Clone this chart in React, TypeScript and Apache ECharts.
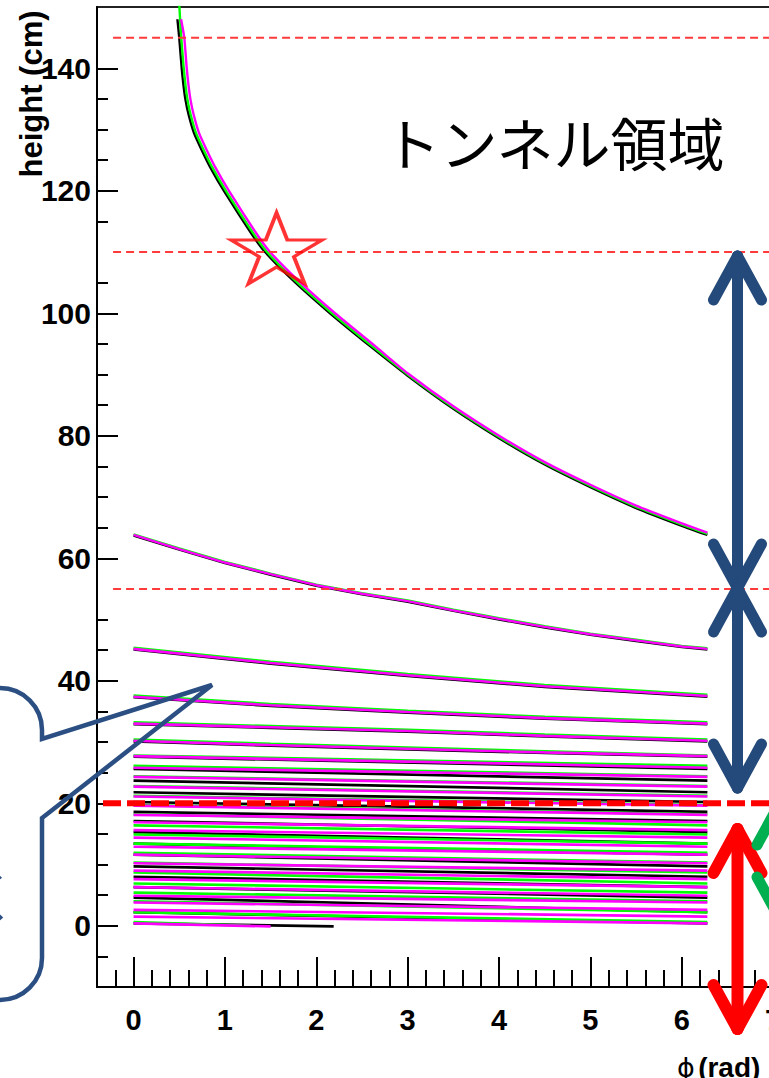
import React, { useEffect, useRef } from "react";
import * as echarts from "echarts";

// ---- axis ticks ----
const xTickLabels = [0, 1, 2, 3, 4, 5, 6, 7];
const xMinorTicks = [-0.2, 0.2, 0.4, 0.6, 0.8, 1.2, 1.4, 1.6, 1.8, 2.2, 2.4, 2.6, 2.8, 3.2, 3.4, 3.6, 3.8, 4.2, 4.4, 4.6, 4.8, 5.2, 5.4, 5.6, 5.8, 6.2, 6.4, 6.6, 6.8, 7.2, 7.4];
const yTickLabels = [0, 20, 40, 60, 80, 100, 120, 140];
const yMinorTicks = [-5, 5, 10, 15, 25, 30, 35, 45, 50, 65, 70, 75, 85, 90, 95, 105, 115, 125, 130, 135];

// ---- first (top) wrap of the track: [phi, height] ----
const topGreen = [[0.498, 151], [0.522, 145.0], [0.548, 140.2], [0.568, 137.3], [0.591, 134.8], [0.625, 132.4], [0.684, 129.4], [0.766, 126.7], [0.859, 123.9], [1.018, 119.8], [1.308, 113.1], [1.461, 110.0], [1.8, 104.9], [2.172, 100.0], [2.621, 94.5], [3.0, 90.0], [3.5, 84.6], [4.0, 79.8], [4.5, 75.5], [5.0, 71.8], [5.5, 68.4], [6.0, 65.5], [6.28, 64.0]];
const topBlack = [[0.48, 148], [0.5, 145.0], [0.526, 140.2], [0.546, 137.3], [0.569, 134.8], [0.603, 132.4], [0.662, 129.4], [0.744, 126.7], [0.837, 123.9], [0.996, 119.8], [1.286, 113.1], [1.439, 110.0], [1.778, 104.9], [2.15, 100.0], [2.6, 94.5], [3.0, 89.8], [3.5, 84.4], [4.0, 79.6], [4.5, 75.3], [5.0, 71.6], [5.5, 68.2], [6.0, 65.3], [6.28, 63.8]];
const topMagenta = [[0.52, 148], [0.555, 145.0], [0.581, 140.2], [0.601, 137.3], [0.624, 134.8], [0.658, 132.4], [0.717, 129.4], [0.799, 126.7], [0.892, 123.9], [1.051, 119.8], [1.341, 113.1], [1.494, 110.0], [1.833, 104.9], [2.205, 100.0], [2.654, 94.5], [3.0, 90.2], [3.5, 84.8], [4.0, 80.0], [4.5, 75.7], [5.0, 72.0], [5.5, 68.6], [6.0, 65.7], [6.28, 64.2]];

// ---- second wrap ----
const phiFine = [0, 0.5, 1, 1.5, 2, 2.5, 3, 3.5, 4, 4.5, 5, 5.5, 6, 6.28];
const wrap2Black = [63.7, 61.4, 59.2, 57.3, 55.5, 54.1, 52.9, 51.4, 50.0, 48.7, 47.5, 46.5, 45.5, 45.1];
const wrap2Green = [63.9, 61.6, 59.4, 57.5, 55.7, 54.3, 53.1, 51.6, 50.2, 48.9, 47.7, 46.7, 45.7, 45.3];
const wrap2Magenta = [63.8, 61.5, 59.3, 57.4, 55.6, 54.2, 53.0, 51.5, 50.1, 48.8, 47.6, 46.6, 45.6, 45.2];

// ---- wraps 3..6 ----
const phiCoarse = [0, 1.5, 3, 4.5, 6.28];
const wrapsBlack = [
  [45.1, 42.8, 40.8, 39.0, 37.4],
  [37.3, 35.9, 34.8, 33.8, 32.9],
  [32.9, 32.3, 31.7, 30.9, 30.1],
  [30.1, 29.4, 28.8, 28.2, 27.6],
];
const wrapsGreen = [
  [45.4, 43.1, 41.1, 39.3, 37.7],
  [37.6, 36.2, 35.1, 34.1, 33.2],
  [33.2, 32.6, 32.0, 31.2, 30.4],
  [30.4, 29.7, 29.1, 28.5, 27.8],
];
const wrapsMagenta = [
  [45.2, 42.9, 40.9, 39.1, 37.5],
  [37.4, 36.0, 34.9, 33.9, 33.0],
  [33.0, 32.4, 31.8, 31.0, 30.2],
  [30.2, 29.5, 28.9, 28.3, 27.7],
];

// ---- dense region: height at each wrap boundary (phi = 0 / 2pi) ----
const WRAP_END = 6.28;
const denseBlack = [27.6, 25.6, 23.7, 21.8, 20.2, 18.6, 17.1, 15.3, 13.4, 11.6, 9.7, 8.0, 6.3, 4.6, 2.2, 0.4];
const denseBlackEnd = [2.19, -0.1];
const denseGreen = [27.8, 26.1, 24.4, 22.8, 21.2, 19.7, 18.2, 16.4, 14.9, 13.4, 11.9, 10.3, 8.7, 6.9, 5.4, 4.0, 2.2, 0.6];
const denseGreenEnd = [1.28, 0.0];
const denseMagenta = [27.7, 25.8, 24.3, 22.7, 21.1, 19.6, 18.1, 16.9, 15.6, 14.4, 12.9, 11.6, 10.2, 9.0, 7.6, 6.3, 4.9, 3.8, 2.6, 1.5, 0.4];
const denseMagentaEnd = [1.5, -0.1];

// ---- reference heights (dashed lines) and star marker ----
const thinLevels = [145, 110, 55];
const thickLevel = 20;
const thinStart = -0.224;
const thickStart = -0.334;
const lineEnd = 7.6;
const starPoint = [1.565, 110.6];

const BLACK = "#000000";
const GREEN = "#00ff00";
const MAGENTA = "#ff00ff";
const BLUE = "#244a7b";
const BUBBLE = "#2b4f82";

function lineSeries(data: number[][], color: string, width = 2.4, smooth = false) {
  return {
    type: "line",
    data,
    symbol: "none",
    silent: true,
    smooth: smooth ? 0.2 : false,
    lineStyle: { color, width },
    z: 2,
  };
}

function trackSeries(
  top: number[][],
  w2: number[],
  wraps: number[][],
  dense: number[],
  end: number[],
  color: string
) {
  const out: any[] = [];
  out.push(lineSeries(top, color, 2.4, true));
  out.push(lineSeries(phiFine.map((p, i) => [p, w2[i]]), color, 2.4, false));
  wraps.forEach((w) => out.push(lineSeries(phiCoarse.map((p, i) => [p, w[i]]), color, 2.6)));
  for (let k = 0; k < dense.length - 1; k++) {
    out.push(lineSeries([[0, dense[k]], [WRAP_END, dense[k + 1]]], color, 2.7));
  }
  out.push(lineSeries([[0, dense[dense.length - 1]], end], color, 2.7));
  return out;
}

function arrow(x: number, y1: number, y2: number, color: string, w = 11) {
  const dx = 24;
  const dy = 44;
  const st = { stroke: color, lineWidth: w, lineCap: "round" };
  const mk = (a: number, b: number, c: number, d: number) => ({
    type: "line",
    silent: true,
    z: 50,
    shape: { x1: a, y1: b, x2: c, y2: d },
    style: st,
  });
  return [
    mk(x, y1, x, y2),
    mk(x, y1, x - dx, y1 + dy),
    mk(x, y1, x + dx, y1 + dy),
    mk(x, y2, x - dx, y2 - dy),
    mk(x, y2, x + dx, y2 - dy),
  ];
}

const STAR_PATH =
  "path://M0,-100 L22.45,-30.9 L95.1,-30.9 L36.3,11.8 L58.8,80.9 L0,38.2 L-58.8,80.9 L-36.3,11.8 L-95.1,-30.9 L-22.45,-30.9 Z";

const BUBBLE_PATH =
  "M -60 688 L 0 688 A 42 42 0 0 1 42 730 L 42 739 L 212 685 L 42 818 L 42 958 A 42 42 0 0 1 0 1000 L -60 1000";

export default function App() {
  const ref = useRef<HTMLDivElement>(null);

  useEffect(() => {
    if (!ref.current) return;
    echarts.graphic.registerShape("bubble", echarts.graphic.extendPath(BUBBLE_PATH, {}));
    const chart = echarts.init(ref.current, undefined, { renderer: "svg" });

    const series: any[] = [
      ...trackSeries(topBlack, wrap2Black, wrapsBlack, denseBlack, denseBlackEnd, BLACK),
      ...trackSeries(topGreen, wrap2Green, wrapsGreen, denseGreen, denseGreenEnd, GREEN),
      ...trackSeries(topMagenta, wrap2Magenta, wrapsMagenta, denseMagenta, denseMagentaEnd, MAGENTA),
    ];
    thinLevels.forEach((h) =>
      series.push({
        type: "line",
        data: [[thinStart, h], [lineEnd, h]],
        symbol: "none",
        silent: true,
        z: 5,
        lineStyle: { color: "#ff3a3a", width: 2, type: [8, 5] },
      })
    );
    series.push({
      type: "line",
      data: [[thickStart, thickLevel], [lineEnd, thickLevel]],
      symbol: "none",
      silent: true,
      z: 6,
      lineStyle: { color: "#ff0000", width: 6, type: [18, 6] },
    });
    series.push({
      type: "scatter",
      data: [starPoint],
      symbol: STAR_PATH,
      symbolSize: [91, 71],
      silent: true,
      z: 7,
      itemStyle: { color: "rgba(0,0,0,0)", borderColor: "#ff0000", borderWidth: 3.5 },
    });

    const tickLine = { color: "#000", width: 2 };
    const option: any = {
      animation: false,
      backgroundColor: "#ffffff",
      grid: {
        left: 97,
        top: 7,
        width: 731,
        height: 980,
        show: true,
        borderColor: "#222",
        borderWidth: 2,
        backgroundColor: "transparent",
      },
      xAxis: [
        {
          type: "value",
          min: -0.4,
          max: 7.6,
          position: "bottom",
          axisLine: { show: true, onZero: false, lineStyle: { color: "#000", width: 2 } },
          axisTick: { show: true, inside: true, length: 30, customValues: xTickLabels, lineStyle: tickLine },
          axisLabel: {
            customValues: xTickLabels,
            fontSize: 29,
            fontWeight: "bold",
            fontFamily: "Liberation Sans",
            color: "#000",
            margin: 18,
          },
          splitLine: { show: false },
        },
        {
          type: "value",
          min: -0.4,
          max: 7.6,
          position: "bottom",
          axisLine: { show: false, onZero: false },
          axisTick: { show: true, inside: true, length: 17, customValues: xMinorTicks, lineStyle: tickLine },
          axisLabel: { show: false },
          splitLine: { show: false },
        },
      ],
      yAxis: [
        {
          type: "value",
          min: -10,
          max: 150,
          position: "left",
          axisLine: { show: true, onZero: false, lineStyle: { color: "#000", width: 2 } },
          axisTick: { show: true, inside: true, length: 21, customValues: yTickLabels, lineStyle: tickLine },
          axisLabel: {
            customValues: yTickLabels,
            fontSize: 30,
            fontWeight: "bold",
            fontFamily: "Liberation Sans",
            color: "#000",
            margin: 6,
          },
          splitLine: { show: false },
        },
        {
          type: "value",
          min: -10,
          max: 150,
          position: "left",
          axisLine: { show: false, onZero: false },
          axisTick: { show: true, inside: true, length: 11, customValues: yMinorTicks, lineStyle: tickLine },
          axisLabel: { show: false },
          splitLine: { show: false },
        },
      ],
      series,
      graphic: [
        {
          type: "text",
          silent: true,
          x: 31,
          y: 94,
          rotation: Math.PI / 2,
          z: 20,
          style: {
            text: "height (cm)",
            font: "bold 31px 'Liberation Sans'",
            fill: "#000",
            textAlign: "center",
            textVerticalAlign: "middle",
          },
        },
        {
          type: "text",
          silent: true,
          x: 677,
          y: 1067,
          z: 20,
          style: {
            text: "{p|ϕ} {r|(rad)}",
            rich: {
              p: { fontFamily: "DejaVu Sans", fontSize: 27, fill: "#000" },
              r: { fontFamily: "Liberation Sans", fontWeight: "bold", fontSize: 28, fill: "#000" },
            },
            textVerticalAlign: "middle",
          },
        },
        {
          type: "text",
          silent: true,
          x: 554,
          y: 141,
          z: 20,
          style: {
            text: "トンネル領域",
            font: "57px 'Noto Sans CJK JP'",
            fill: "#000",
            textAlign: "center",
            textVerticalAlign: "middle",
          },
        },
        {
          type: "bubble",
          silent: true,
          x: 0,
          y: 0,
          z: 40,
          style: { fill: "none", stroke: BUBBLE, lineWidth: 4.5 },
        },
        {
          type: "text",
          silent: true,
          x: -36,
          y: 894,
          z: 40,
          style: {
            text: "く",
            font: "54px 'Noto Sans CJK JP'",
            fill: BUBBLE,
            textAlign: "left",
            textVerticalAlign: "middle",
          },
        },
        ...arrow(737.5, 256, 588, BLUE),
        ...arrow(737.5, 588, 788, BLUE),
        ...arrow(737.5, 829, 1029, "#ff0000", 12),
        ...arrow(781, 801, 921, "#00b050", 11),
      ],
    };
    chart.setOption(option);
    return () => chart.dispose();
  }, []);

  return (
    <div
      style={{
        position: "fixed",
        left: 0,
        top: 0,
        width: 769,
        height: 1078,
        overflow: "hidden",
        background: "#fff",
      }}
    >
      <div ref={ref} style={{ width: 840, height: 1078 }} />
    </div>
  );
}
